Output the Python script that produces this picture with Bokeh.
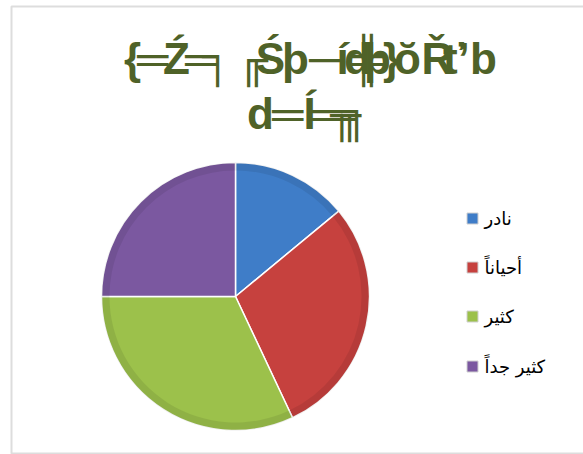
import math
from bokeh.plotting import figure
from bokeh.models import Range1d, BoxAnnotation, ColumnDataSource
from bokeh.core.properties import value
from bokeh.embed import file_html
from bokeh.resources import INLINE

# ---- data ----
categories = ["نادر", "أحياناً", "كثير", "كثير جداً"]
values = [14, 29, 32, 25]
colors = ["#3F7DC8", "#C6413E", "#9CC14B", "#7B58A0"]
title_line1 = ["{", "═", "Ź", "═", "╕", "╓", "Ś", "þ", "─", "í", "d", "╬", "þ", "}", "ŏ", "Ř", "ť", "’", "b"]
title_line2 = ["d", "═", "Í", "═", "╥", "╕"]

# layout (glyph centres of the garbled title, in px)
t1_x = [132, 152, 176, 200, 217, 252, 270, 295, 324, 342, 357, 367, 377, 391, 407, 437, 453, 463, 483]
t2_x = [260, 287, 309, 326, 345, 356]

W, H = 583, 454
p = figure(width=W, height=H, output_backend="svg", toolbar_location=None,
           x_range=Range1d(0, W), y_range=Range1d(0, H), min_border=0,
           background_fill_color="white", border_fill_color="white")
p.axis.visible = False
p.grid.visible = False
p.outline_line_color = None

# chart frame
p.add_layout(BoxAnnotation(left=11, right=W + 20, top=H - 6, bottom=H - 453,
                           fill_color=None, line_color="#8e8e8e", line_width=2))

# pie
cx, cy, r = 235, H - 296, 134
total = float(sum(values))
starts, ends = [], []
cum = 0.0
for v in values:
    starts.append(math.pi / 2 - 2 * math.pi * cum / total)
    cum += v
    ends.append(math.pi / 2 - 2 * math.pi * cum / total)

src = ColumnDataSource(dict(start=starts, end=ends, color=colors, cat=categories))
p.wedge(x=cx, y=cy, radius=r, start_angle="start", end_angle="end",
        direction="clock", fill_color="color", line_color="white", line_width=1.5,
        source=src)
# subtle darker rim for 3D look
p.annular_wedge(x=cx, y=cy, inner_radius=r - 8, outer_radius=r,
                start_angle="start", end_angle="end", direction="clock",
                fill_color="black", fill_alpha=0.08, line_color=None, source=src)

# title (garbled text, glyphs overlap as in the original)
tfont = value("Liberation Sans")
p.text(x=t1_x, y=[H - 58] * len(title_line1), text=title_line1,
       text_font=tfont, text_font_style="bold", text_font_size="44px",
       text_color="#4F6228", text_align="center", text_baseline="alphabetic")
p.text(x=t2_x, y=[H - 113] * len(title_line2), text=title_line2,
       text_font=tfont, text_font_style="bold", text_font_size="44px",
       text_color="#4F6228", text_align="center", text_baseline="alphabetic")

# legend
leg_y = [H - 218, H - 267, H - 316, H - 366]
p.rect(x=[472] * 4, y=leg_y, width=11, height=11, fill_color=colors,
       line_color="#d0d0d0", line_width=1)
p.text(x=[484] * 4, y=leg_y, text=categories, text_font=value("DejaVu Sans"),
       text_font_size="18px", text_color="black", text_align="left",
       text_baseline="middle")

open("out.html", "w").write(file_html(p, INLINE))
